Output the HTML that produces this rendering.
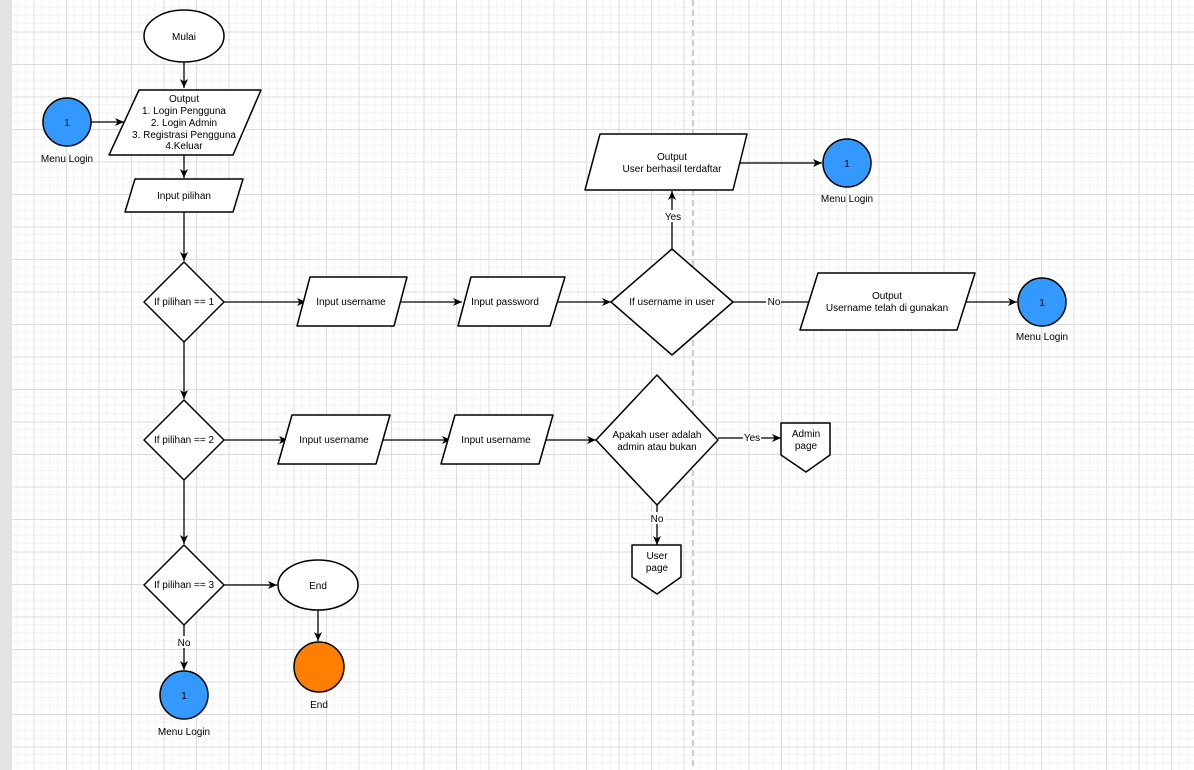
<!DOCTYPE html>
<html><head><meta charset="utf-8"><style>
html,body{margin:0;padding:0;background:#fff;}
svg{display:block;font-family:"Liberation Sans",sans-serif;}
</style></head><body>
<svg width="1194" height="770" viewBox="0 0 1194 770" xmlns="http://www.w3.org/2000/svg">
<defs>
<pattern id="g" x="1" y="-1" width="32.5" height="32.5" patternUnits="userSpaceOnUse">
<path d="M8.125 0V32.5M16.25 0V32.5M24.375 0V32.5M0 8.125H32.5M0 16.25H32.5M0 24.375H32.5" stroke="#f4f4f4" stroke-width="1" fill="none"/>
<path d="M0.5 0V32.5M0 0.5H32.5" stroke="#dcdcdc" stroke-width="1" fill="none"/>
</pattern>
<marker id="a" markerWidth="10" markerHeight="10" refX="9" refY="5" orient="auto" markerUnits="userSpaceOnUse">
<path d="M0,1 L9,5 L0,9 L2.5,5 Z" fill="#000"/>
</marker>
</defs>
<rect width="1194" height="770" fill="url(#g)"/>
<rect width="12" height="770" fill="#e4e4e7"/>
<line x1="693" y1="0" x2="693" y2="770" stroke="#cfcfcf" stroke-width="2" stroke-dasharray="6,4"/>

<g stroke="#000" stroke-width="1.3" fill="none">
<line x1="184" y1="62" x2="184" y2="88" marker-end="url(#a)"/>
<line x1="91" y1="122" x2="124" y2="122" marker-end="url(#a)"/>
<line x1="184" y1="155" x2="184" y2="178" marker-end="url(#a)"/>
<line x1="184" y1="212" x2="184" y2="261" marker-end="url(#a)"/>
<line x1="224" y1="302" x2="306" y2="302" marker-end="url(#a)"/>
<line x1="394" y1="302" x2="462" y2="302" marker-end="url(#a)"/>
<line x1="550" y1="302" x2="611" y2="302" marker-end="url(#a)"/>
<line x1="672" y1="249" x2="672" y2="191" marker-end="url(#a)"/>
<line x1="733" y1="163" x2="822" y2="163" marker-end="url(#a)"/>
<line x1="733" y1="302" x2="820" y2="302" marker-end="url(#a)"/>
<line x1="957" y1="302" x2="1017" y2="302" marker-end="url(#a)"/>
<line x1="184" y1="342" x2="184" y2="399" marker-end="url(#a)"/>
<line x1="224" y1="440" x2="288" y2="440" marker-end="url(#a)"/>
<line x1="376" y1="440" x2="451" y2="440" marker-end="url(#a)"/>
<line x1="537" y1="440" x2="596" y2="440" marker-end="url(#a)"/>
<line x1="718" y1="438" x2="781" y2="438" marker-end="url(#a)"/>
<line x1="657" y1="505" x2="657" y2="545" marker-end="url(#a)"/>
<line x1="184" y1="480" x2="184" y2="544" marker-end="url(#a)"/>
<line x1="224" y1="585" x2="277" y2="585" marker-end="url(#a)"/>
<line x1="318" y1="610" x2="318" y2="641" marker-end="url(#a)"/>
<line x1="184" y1="625" x2="184" y2="670" marker-end="url(#a)"/>
</g>

<g stroke="#000" stroke-width="1.5" fill="#fff" stroke-linejoin="round">
<ellipse cx="184" cy="36" rx="40" ry="26"/>
<path d="M139 90H261L233 155H109Z"/>
<path d="M135 179H243L233 212H125Z"/>
<path d="M184 262L224 302L184 342L144 302Z"/>
<path d="M310 277H407L394 326H297Z"/>
<path d="M471 277H565L550 326H458Z"/>
<path d="M672 249L733 302L672 355L611 302Z"/>
<path d="M600 134H747L733 190H585Z"/>
<path d="M818 273H975L957 330H800Z"/>
<path d="M184 400L224 440L184 480L144 440Z"/>
<path d="M292 415H390L376 464H278Z"/>
<path d="M455 415H553L539 464H441Z"/>
<path d="M657 375L718 440L657 505L596 440Z"/>
<path d="M781 423H830V455L806 472L781 455Z"/>
<path d="M632 545H681V577L657 594L632 577Z"/>
<path d="M184 545L224 585L184 625L144 585Z"/>
<ellipse cx="318" cy="585" rx="40" ry="25"/>
</g>
<g stroke="#000" stroke-width="1.5">
<circle cx="67" cy="122" r="24" fill="#3399ff"/>
<circle cx="847" cy="163" r="24" fill="#3399ff"/>
<circle cx="1042" cy="302" r="24" fill="#3399ff"/>
<circle cx="184" cy="695" r="24" fill="#3399ff"/>
<circle cx="319" cy="667" r="25" fill="#ff8000"/>
</g>

<g font-size="10" fill="#000" text-anchor="middle">
<text x="184" y="40">Mulai</text>
<text x="184" y="102">Output</text>
<text x="184" y="114">1. Login Pengguna</text>
<text x="184" y="126">2. Login Admin</text>
<text x="184" y="138">3. Registrasi Pengguna</text>
<text x="184" y="149">4.Keluar</text>
<text x="67" y="126">1</text>
<text x="67" y="162">Menu Login</text>
<text x="184" y="199">Input pilihan</text>
<text x="184" y="305">If pilihan == 1</text>
<text x="351" y="305">Input username</text>
<text x="505" y="305">Input password</text>
<text x="672" y="305">If username in user</text>
<text x="672" y="160">Output</text>
<text x="672" y="172">User berhasil terdaftar</text>
<text x="847" y="167">1</text>
<text x="847" y="202">Menu Login</text>
<text x="887" y="299">Output</text>
<text x="887" y="311">Username telah di gunakan</text>
<text x="1042" y="306">1</text>
<text x="1042" y="340">Menu Login</text>
<text x="184" y="443">If pilihan == 2</text>
<text x="334" y="443">Input username</text>
<text x="496" y="443">Input username</text>
<text x="657" y="438">Apakah user adalah</text>
<text x="657" y="450">admin atau bukan</text>
<text x="806" y="437">Admin</text>
<text x="806" y="449">page</text>
<text x="657" y="559">User</text>
<text x="657" y="571">page</text>
<text x="184" y="588">If pilihan == 3</text>
<text x="318" y="589">End</text>
<text x="319" y="708">End</text>
<text x="184" y="699">1</text>
<text x="184" y="735">Menu Login</text>
</g>
<g font-size="10" text-anchor="middle">
<rect x="664" y="210" width="17" height="12" fill="#fff"/>
<text x="673" y="220">Yes</text>
<rect x="766" y="296" width="15" height="12" fill="#fff"/>
<text x="774" y="305">No</text>
<rect x="743" y="432" width="18" height="12" fill="#fff"/>
<text x="752" y="441">Yes</text>
<rect x="650" y="512" width="15" height="12" fill="#fff"/>
<text x="657" y="522">No</text>
<rect x="177" y="636" width="15" height="12" fill="#fff"/>
<text x="184" y="646">No</text>
</g>
</svg>
</body></html>
